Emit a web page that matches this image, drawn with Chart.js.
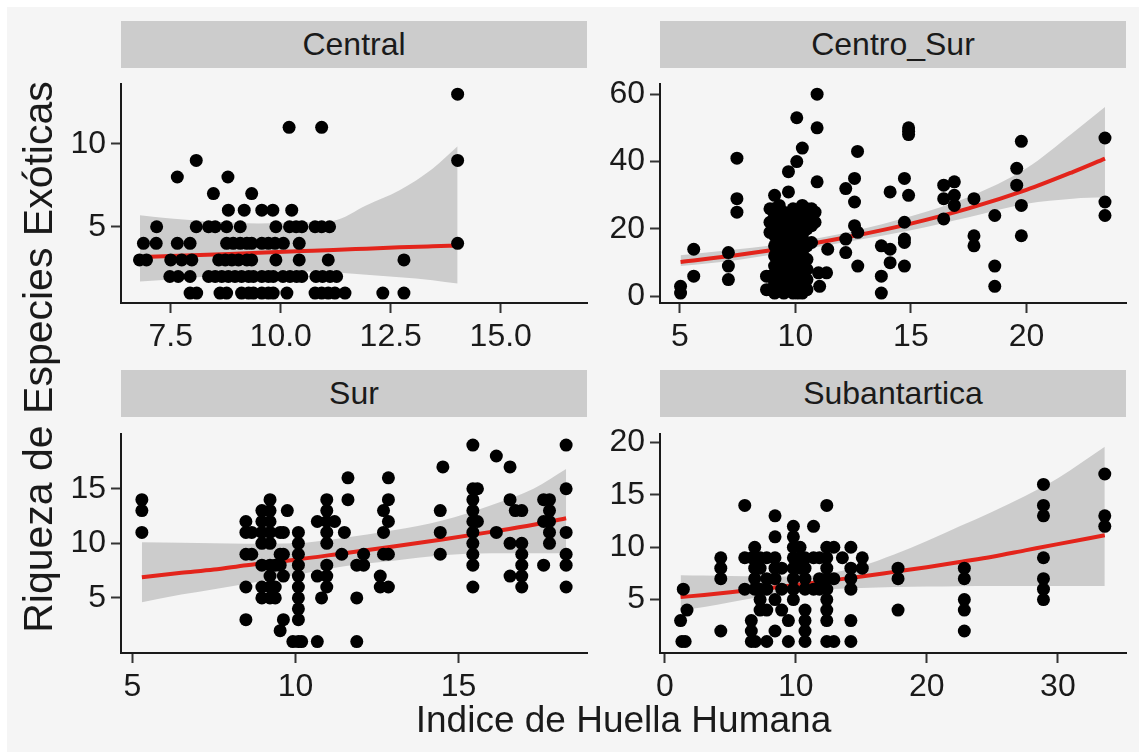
<!DOCTYPE html>
<html>
<head>
<meta charset="utf-8">
<script src="https://cdn.jsdelivr.net/npm/chart.js@4.4.1/dist/chart.umd.min.js"></script>
<style>
  body { margin: 0; width: 1139px; height: 752px; overflow: hidden; background: #fff;
         font-family: "Liberation Sans", Arial, sans-serif; color: #1a1a1a; }
  #bg { position: absolute; left: 7px; top: 7px; right: 0; bottom: 0; background: #f5f5f5; }
  .strip { position: absolute; height: 47px; line-height: 47px; background: #cccccc;
           font-size: 32px; text-align: center; }
  canvas { position: absolute; }
  #xtitle { position: absolute; left: 121px; width: 1005px; top: 700px; font-size: 37px;
            line-height: 40px; text-align: center; }
  #ytitle { position: absolute; left: 38px; top: 357px; width: 700px; font-size: 41px;
            line-height: 44px; text-align: center; white-space: nowrap;
            transform: translate(-50%, -50%) rotate(-90deg); }
</style>
</head>
<body>
<div id="bg"></div>
<div class="strip" style="left:121px;top:21px;width:466px">Central</div>
<div class="strip" style="left:660px;top:21px;width:466px">Centro_Sur</div>
<div class="strip" style="left:121px;top:370px;width:466px">Sur</div>
<div class="strip" style="left:660px;top:370px;width:466px">Subantartica</div>
<canvas id="central" width="600" height="310" style="left:0;top:60px"></canvas>
<canvas id="centroSur" width="547" height="310" style="left:592px;top:60px"></canvas>
<canvas id="sur" width="600" height="300" style="left:0;top:410px"></canvas>
<canvas id="subantartica" width="547" height="300" style="left:592px;top:410px"></canvas>
<div id="ytitle">Riqueza de Especies Exóticas</div>
<div id="xtitle">Indice de Huella Humana</div>
<script>
// ---- Central ----
const centralPoints = [
  [14.02,13],[10.19,11],[10.93,11],[8.08,9],[14.02,9],[7.65,8],[8.80,8],[8.47,7],[9.34,7],
  [8.81,6],[9.17,6],[9.57,6],[9.82,6],[10.25,6],
  [7.18,5],[8.08,5],[8.36,5],[8.51,5],[8.77,5],[9.08,5],[9.89,5],[10.20,5],[10.35,5],[10.48,5],[10.78,5],[10.93,5],[11.11,5],
  [6.88,4],[7.17,4],[7.65,4],[7.94,4],[8.77,4],[8.92,4],[9.08,4],[9.23,4],[9.34,4],[9.57,4],[9.72,4],[9.87,4],[10.06,4],[10.42,4],[14.02,4],
  [6.79,3],[6.95,3],[7.50,3],[7.75,3],[7.98,3],[8.59,3],[8.74,3],[8.89,3],[9.04,3],[9.23,3],[9.34,3],[9.89,3],[10.42,3],[11.08,3],[12.80,3],
  [7.48,2],[7.67,2],[7.94,2],[8.36,2],[8.51,2],[8.66,2],[8.81,2],[8.96,2],[9.11,2],[9.27,2],[9.38,2],[9.57,2],[9.72,2],[9.83,2],
  [10.05,2],[10.21,2],[10.36,2],[10.48,2],[10.80,2],[10.95,2],[11.12,2],[11.27,2],
  [7.94,1],[8.09,1],[8.62,1],[8.77,1],[9.11,1],[9.27,1],[9.38,1],[9.57,1],[9.72,1],[9.83,1],[10.14,1],
  [10.78,1],[10.93,1],[11.08,1],[11.23,1],[11.46,1],[12.32,1],[12.80,1]
];
const centralCurveX = [6.8, 7.5, 8.5, 9.5, 10.5, 11.2, 11.95, 12.7, 13.45, 14.02];
const centralFit    = [3.17, 3.23, 3.33, 3.43, 3.53, 3.60, 3.68, 3.76, 3.82, 3.86];
const centralUpper  = [5.69, 5.5, 5.3, 5.2, 5.25, 5.36, 6.3, 7.2, 8.5, 9.85];
const centralLower  = [1.70, 1.82, 2.05, 2.25, 2.3, 2.25, 2.1, 1.95, 1.78, 1.57];
const centralXTicks = [7.5, 10, 12.5, 15];
const centralXLabels = ['7.5', '10.0', '12.5', '15.0'];
const centralYTicks = [5, 10];

// ---- Centro_Sur ----
const centroSurPoints = [
  [5.03,1],[5.03,3],[5.6,14],[5.6,6],[7.1,13],[7.1,9],[7.1,5],[7.47,41],[7.47,29],[7.47,25],
  [8.75,6],[8.75,2],[9.1,30],[9.1,26],[9.7,37],[9.7,31],[10.06,53],[10.06,40],[10.3,44],[10.94,60],[10.94,50],[10.94,34],
  [8.9,2],[8.9,6],[8.9,19],[8.9,22],[8.9,26],
  [9.1,1],[9.1,4],[9.1,9],[9.1,12],[9.1,15],[9.1,18],[9.1,21],[9.1,24],
  [9.3,2],[9.3,5],[9.3,8],[9.3,11],[9.3,14],[9.3,17],[9.3,20],[9.3,23],[9.3,27],
  [9.5,1],[9.5,3],[9.5,6],[9.5,10],[9.5,13],[9.5,16],[9.5,19],[9.5,22],[9.5,25],
  [9.7,2],[9.7,4],[9.7,7],[9.7,9],[9.7,12],[9.7,15],[9.7,18],[9.7,21],[9.7,24],
  [9.9,1],[9.9,3],[9.9,5],[9.9,8],[9.9,11],[9.9,14],[9.9,17],[9.9,20],[9.9,23],[9.9,26],
  [10.1,1],[10.1,2],[10.1,4],[10.1,6],[10.1,9],[10.1,12],[10.1,16],[10.1,19],[10.1,22],[10.1,25],
  [10.3,1],[10.3,3],[10.3,7],[10.3,10],[10.3,13],[10.3,18],[10.3,21],[10.3,24],[10.3,27],
  [10.5,2],[10.5,5],[10.5,8],[10.5,11],[10.5,15],[10.5,20],[10.5,23],[10.5,26],
  [10.7,16],[10.7,21],[10.7,24],[10.7,26],[10.85,22],[10.85,25],
  [11.0,7],[11.35,7],[11.05,3],[11.4,14],
  [12.18,32],[12.18,17],[12.18,13],[12.56,35],[12.56,28],[12.56,21],[12.7,19],[12.7,9],[12.69,43],
  [13.72,15],[13.72,6],[13.72,1],[14.1,31],[14.1,14],[14.1,10],
  [14.72,35],[14.72,22],[14.72,17],[14.72,16],[14.72,9],[14.9,50],[14.9,49],[14.9,48],[14.9,30],
  [16.42,33],[16.42,29],[16.42,23],[16.88,34],[16.88,30],[16.88,27],
  [17.73,29],[17.73,18],[17.73,15],[18.63,24],[18.63,9],[18.63,3],
  [19.58,38],[19.58,33],[19.78,46],[19.78,27],[19.78,18],
  [23.4,47],[23.4,28],[23.4,24]
];
const centroSurCurveX = [5.03, 7.5, 10, 12.5, 15, 17.5, 20, 22, 23.4];
const centroSurFit    = [10.2, 12.3, 14.8, 17.9, 21.6, 26.1, 31.6, 36.9, 40.9];
const centroSurUpper  = [12.2, 14.0, 16.1, 19.4, 23.8, 29.5, 38.0, 48.5, 56.2];
const centroSurLower  = [9.0, 10.8, 13.6, 16.5, 19.6, 23.5, 27.5, 29.0, 29.4];
const centroSurXTicks = [5, 10, 15, 20];
const centroSurYTicks = [0, 20, 40, 60];

// ---- Sur ----
const surPoints = [
  [5.29,14],[5.29,13],[5.29,11],
  [8.48,12],[8.48,11],[8.48,9],[8.48,6],[8.48,3],[8.66,11],[8.66,9],
  [8.97,13],[8.97,12],[8.97,11],[8.97,10],[8.97,8],[8.97,6],[8.97,5],
  [9.22,14],[9.22,13],[9.22,12],[9.22,11],[9.22,10],[9.22,8],[9.22,7],[9.22,6],[9.22,5],
  [9.38,6],[9.38,5],[9.38,8],[9.53,11],[9.53,9],[9.53,8],[9.53,2],
  [9.63,11],[9.63,9],[9.63,7],[9.63,3],[9.75,13],
  [10.09,11],[10.09,10],[10.09,9],[10.09,8],[10.09,7],[10.09,6],[10.09,5],[10.09,4],[10.09,3],[10.09,1],
  [9.92,1],[10.19,1],
  [10.67,12],[10.67,7],[10.67,1],[10.8,5],
  [10.96,14],[10.96,13],[10.96,12],[10.96,11],[10.96,10],[10.96,8],[10.96,7],[10.96,6],
  [11.2,12],[11.42,9],[11.61,16],[11.61,14],[11.5,11],
  [11.88,8],[11.88,5],[11.88,1],[12.09,9],[12.09,8],
  [12.6,7],[12.6,6],[12.7,13],[12.7,11],[12.7,9],
  [12.85,16],[12.85,14],[12.85,12],[12.85,9],[12.85,6],
  [14.44,13],[14.44,11],[14.44,9],[14.52,17],
  [15.44,19],[15.44,15],[15.44,14],[15.44,13],[15.44,12],[15.44,11],[15.44,10],[15.44,9],[15.44,8],[15.44,6],
  [15.58,15],[15.58,12],[16.16,18],[16.16,11],
  [16.58,17],[16.58,14],[16.58,10],[16.58,7],
  [16.74,13],[16.94,13],[16.94,10],[16.94,9],[16.94,8],[16.94,7],[16.94,6],
  [17.61,14],[17.61,12],[17.61,8],
  [17.79,14],[17.79,13],[17.79,12],[17.79,11],[17.79,10],
  [18.3,19],[18.3,15],[18.3,11],[18.3,9],[18.3,8],[18.3,6]
];
const surCurveX = [5.29, 6.5, 7.5, 8.5, 10, 11.5, 13, 14.5, 16, 17.3, 18.3];
const surFit    = [6.9, 7.3, 7.6, 8.0, 8.5, 9.1, 9.7, 10.35, 11.05, 11.7, 12.3];
const surUpper  = [10.1, 10.05, 10.0, 9.95, 10.0, 10.5, 11.2, 12.1, 13.5, 15.0, 16.8];
const surLower  = [4.6, 5.3, 5.8, 6.3, 7.1, 7.9, 8.4, 8.9, 9.1, 9.1, 9.1];
const surXTicks = [5, 10, 15];
const surYTicks = [5, 10, 15];

// ---- Subantartica ----
const subantarticaPoints = [
  [1.2,3],[1.3,1],[1.55,1],[1.41,6],[1.69,4],
  [4.27,9],[4.27,8],[4.27,7],[4.27,2],
  [6.1,14],[6.1,9],[6.1,6],[6.6,3],[6.6,2],[6.6,1],[6.9,1],
  [6.86,10],[6.86,8],[6.86,7],[6.86,6],[6.63,9],
  [7.27,9],[7.27,8],[7.27,6],[7.27,5],[7.27,4],
  [7.78,9],[7.78,7],[7.78,6],[7.78,4],[7.78,1],
  [8.41,13],[8.41,11],[8.41,9],[8.41,8],[8.41,7],[8.41,5],[8.41,2],
  [8.92,8],[8.92,6],[8.92,4],[9.43,3],[9.43,1],
  [9.81,12],[9.81,11],[9.81,10],[9.81,9],[9.81,8],[9.81,7],[9.81,6],[9.81,5],
  [10.32,10],[10.32,9],[10.32,8],
  [10.7,9],[10.7,8],[10.7,7],[10.7,6],[10.7,4],[10.7,3],[10.7,2],[10.7,1],
  [11.35,12],[11.35,9],[11.35,6],[11.8,9],[11.8,7],[11.8,6],
  [12.36,14],[12.36,10],[12.36,9],[12.36,8],[12.36,7],[12.36,6],[12.36,5],[12.36,4],[12.36,3],[12.36,1],
  [12.9,10],[12.9,7],[12.9,1],[13.55,9],
  [14.2,10],[14.2,8],[14.2,7],[14.2,6],[14.2,3],[14.2,1],
  [15.07,9],[15.07,8],
  [17.8,8],[17.8,7],[17.8,4],
  [22.86,8],[22.86,7],[22.86,5],[22.86,4],[22.86,2],
  [28.9,16],[28.9,14],[28.9,13],[28.9,9],[28.9,7],[28.9,6],[28.9,5],
  [33.58,17],[33.58,13],[33.58,12]
];
const subantarticaCurveX = [1.2, 3, 5, 7.5, 10, 12.5, 15, 17.5, 20, 22.5, 25, 27.5, 30, 33.58];
const subantarticaFit    = [5.24, 5.45, 5.7, 6.05, 6.4, 6.8, 7.2, 7.65, 8.1, 8.6, 9.1, 9.7, 10.3, 11.14];
const subantarticaUpper  = [7.33, 7.3, 7.25, 7.2, 7.2, 7.5, 8.2, 9.3, 10.6, 12.0, 13.4, 14.9, 16.6, 19.6];
const subantarticaLower  = [3.95, 4.3, 4.75, 5.3, 5.8, 6.0, 6.1, 6.2, 6.25, 6.28, 6.3, 6.3, 6.3, 6.3];
const subantarticaXTicks = [0, 10, 20, 30];
const subantarticaYTicks = [5, 10, 15, 20];

const INK = '#1a1a1a';
const BAND = '#cccccc';
const FIT = '#e3241b';

function toXY(xs, ys) {
  return xs.map((x, i) => ({ x: x, y: ys[i] }));
}

// fixed tick positions, like ggplot breaks
function fixedTicks(values) {
  return axis => { axis.ticks = values.map(v => ({ value: v })); };
}

function axisCommon(size) {
  return {
    type: 'linear',
    border: { display: true, color: INK, width: 2 },
    grid: { drawOnChartArea: false, drawTicks: true, tickLength: 10, tickWidth: 2, tickColor: '#333' },
    ticks: { color: INK, font: { family: '"Liberation Sans", Arial, sans-serif', size: 32 }, padding: 5 },
    afterFit: size
  };
}

function drawPanel(id, p) {
  const xAxis = axisCommon(s => { s.height = p.xSpace; });
  xAxis.min = p.xRange[0];
  xAxis.max = p.xRange[1];
  xAxis.afterBuildTicks = fixedTicks(p.xTicks);
  xAxis.ticks.maxRotation = 0;
  xAxis.ticks.callback = (v, i) => p.xLabels ? p.xLabels[i] : String(v);

  const yAxis = axisCommon(s => { s.width = p.ySpace; });
  yAxis.min = p.yRange[0];
  yAxis.max = p.yRange[1];
  yAxis.afterBuildTicks = fixedTicks(p.yTicks);
  yAxis.ticks.callback = v => String(v);

  new Chart(document.getElementById(id), {
    type: 'scatter',
    data: {
      datasets: [
        { data: p.points.map(d => ({ x: d[0], y: d[1] })), backgroundColor: '#000', borderWidth: 0,
          pointRadius: 6.5, pointHoverRadius: 6.5, order: 0 },
        { type: 'line', data: toXY(p.curveX, p.fit), borderColor: FIT, borderWidth: 4,
          pointRadius: 0, cubicInterpolationMode: 'monotone', fill: false, order: 1 },
        { type: 'line', data: toXY(p.curveX, p.upper), borderWidth: 0, borderColor: 'rgba(0,0,0,0)',
          backgroundColor: BAND, pointRadius: 0, cubicInterpolationMode: 'monotone', fill: '+1', order: 2 },
        { type: 'line', data: toXY(p.curveX, p.lower), borderWidth: 0, borderColor: 'rgba(0,0,0,0)',
          pointRadius: 0, cubicInterpolationMode: 'monotone', fill: false, order: 3 }
      ]
    },
    options: {
      responsive: false,
      animation: false,
      layout: { padding: { top: p.padTop, right: p.padRight, left: 0, bottom: 0 } },
      plugins: { legend: { display: false }, tooltip: { enabled: false } },
      scales: { x: xAxis, y: yAxis }
    }
  });
}

drawPanel('central', {
  points: centralPoints, curveX: centralCurveX, fit: centralFit, upper: centralUpper, lower: centralLower,
  xRange: [6.37, 16.96], yRange: [0.4, 13.6], xTicks: centralXTicks, xLabels: centralXLabels, yTicks: centralYTicks,
  ySpace: 121, xSpace: 67, padTop: 7.5, padRight: 13
});
drawPanel('centroSur', {
  points: centroSurPoints, curveX: centroSurCurveX, fit: centroSurFit, upper: centroSurUpper, lower: centroSurLower,
  xRange: [4.14, 24.31], yRange: [-1.95, 62.95], xTicks: centroSurXTicks, yTicks: centroSurYTicks,
  ySpace: 68, xSpace: 67, padTop: 7.5, padRight: 13
});
drawPanel('sur', {
  points: surPoints, curveX: surCurveX, fit: surFit, upper: surUpper, lower: surLower,
  xRange: [4.65, 18.94], yRange: [-0.05, 20.0], xTicks: surXTicks, yTicks: surYTicks,
  ySpace: 121, xSpace: 57, padTop: 7, padRight: 13
});
drawPanel('subantartica', {
  points: subantarticaPoints, curveX: subantarticaCurveX, fit: subantarticaFit, upper: subantarticaUpper, lower: subantarticaLower,
  xRange: [-0.37, 35.2], yRange: [-0.1, 20.8], xTicks: subantarticaXTicks, yTicks: subantarticaYTicks,
  ySpace: 68, xSpace: 57, padTop: 7, padRight: 13
});
</script>
</body>
</html>
